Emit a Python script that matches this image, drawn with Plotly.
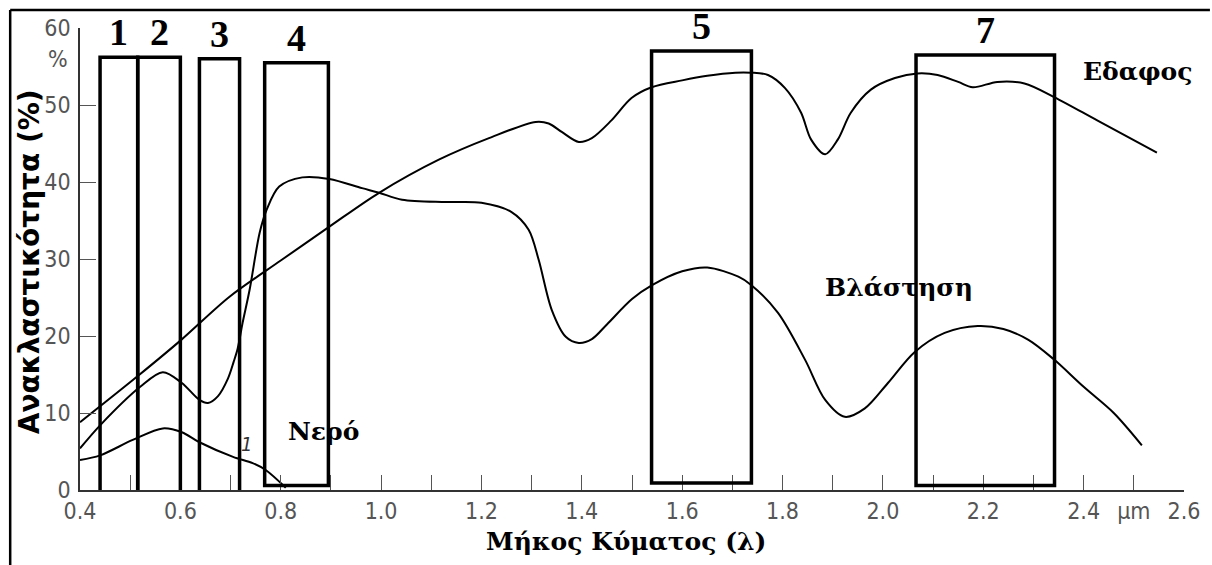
import numpy as np
import plotly.graph_objects as go

# ---------------- data ----------------
soil_x = [0.40, 0.517, 0.60, 0.698, 0.80, 0.897, 0.996, 1.115, 1.215, 1.308, 1.334, 1.36, 1.394,
          1.42, 1.459, 1.499, 1.539, 1.60, 1.65, 1.706, 1.737, 1.771, 1.805, 1.837, 1.857, 1.885,
          1.91, 1.936, 1.976, 2.024, 2.069, 2.109, 2.15, 2.179, 2.228, 2.282, 2.342, 2.427, 2.546]
soil_y = [8.8, 14.9, 19.4, 25.1, 29.8, 34.2, 38.6, 42.9, 45.7, 47.8, 47.6, 46.5, 45.2,
          45.7, 48.0, 50.9, 52.3, 53.2, 53.8, 54.2, 54.2, 53.9, 52.2, 49.0, 45.5, 43.6,
          45.5, 49.0, 52.0, 53.5, 54.1, 53.9, 53.0, 52.3, 53.0, 52.8, 51.0, 48.0, 43.8]

veg_x = [0.40, 0.44, 0.52, 0.565, 0.603, 0.638, 0.655, 0.675, 0.695, 0.706, 0.714, 0.724, 0.738,
         0.758, 0.772, 0.797, 0.843, 0.897, 0.962, 0.996, 1.042, 1.129, 1.20, 1.26, 1.294, 1.314,
         1.34, 1.368, 1.394, 1.42, 1.45, 1.50, 1.54, 1.60, 1.65, 1.712, 1.738, 1.791, 1.845, 1.885,
         1.924, 1.964, 2.01, 2.063, 2.123, 2.189, 2.24, 2.29, 2.34, 2.40, 2.46, 2.516]
veg_y = [5.4, 8.4, 13.4, 15.3, 13.9, 11.7, 11.3, 12.2, 14.5, 16.6, 18.3, 21.7, 26.0,
         33.4, 36.4, 39.4, 40.6, 40.4, 39.2, 38.6, 37.7, 37.4, 37.3, 36.1, 33.8, 29.9,
         23.4, 19.9, 19.1, 19.6, 21.5, 24.8, 26.6, 28.4, 28.9, 27.7, 26.6, 23.0, 16.9, 11.7,
         9.5, 10.6, 13.9, 17.9, 20.4, 21.3, 20.9, 19.5, 17.0, 13.4, 10.0, 5.8]

water_x = [0.40, 0.44, 0.505, 0.565, 0.603, 0.638, 0.705, 0.744, 0.77, 0.81]
water_y = [3.9, 4.5, 6.5, 8.0, 7.5, 6.2, 4.3, 3.5, 2.6, 0.3]

band_names = ["1", "2", "3", "4", "5", "7"]
band_x0 = [0.44, 0.515, 0.638, 0.768, 1.539, 2.066]
band_x1 = [0.515, 0.600, 0.718, 0.895, 1.738, 2.342]
band_top = [56.2, 56.2, 56.0, 55.5, 57.0, 56.5]
band_bottom = [-0.3, -0.5, -0.3, 0.6, 0.9, 0.6]

x_ticks = [round(0.4 + 0.1 * i, 1) for i in range(23)]
x_ticktext = ["0.4", "", "0.6", "", "0.8", "", "1.0", "", "1.2", "", "1.4", "", "1.6", "",
              "1.8", "", "2.0", "", "2.2", "", "2.4", "\u03bcm", "2.6"]
y_ticks = [0, 10, 20, 30, 40, 50, 60]

curve_names = ["\u0395\u03b4\u03b1\u03c6\u03bf\u03c2", "\u0392\u03bb\u03ac\u03c3\u03c4\u03b7\u03c3\u03b7",
               "\u039d\u03b5\u03c1\u03cc"]
y_title = "\u0391\u03bd\u03b1\u03ba\u03bb\u03b1\u03c3\u03c4\u03b9\u03ba\u03cc\u03c4\u03b7\u03c4\u03b1 (%)"
x_title = "\u039c\u03ae\u03ba\u03bf\u03c2 \u039a\u03cd\u03bc\u03b1\u03c4\u03bf\u03c2 (\u03bb)"

# ---------------- figure ----------------
fig = go.Figure()
line_style = dict(color="black", width=2, shape="spline", smoothing=0.9)
for xs, ys, nm in [(soil_x, soil_y, curve_names[0]), (veg_x, veg_y, curve_names[1]),
                   (water_x, water_y, curve_names[2])]:
    fig.add_trace(go.Scatter(x=xs, y=ys, mode="lines", line=line_style, name=nm,
                             hoverinfo="skip", cliponaxis=False))

shapes = []
annotations = []
serif_digits = "Liberation Serif, serif"
serif_greek = "DejaVu Serif, serif"
for nm, x0, x1, t, b in zip(band_names, band_x0, band_x1, band_top, band_bottom):
    shapes.append(dict(type="rect", xref="x", yref="y", x0=x0, x1=x1, y0=b, y1=t,
                       line=dict(color="black", width=3.5), fillcolor="rgba(0,0,0,0)"))
    annotations.append(dict(x=(x0 + x1) / 2, y=t, xref="x", yref="y", text="<b>%s</b>" % nm,
                            showarrow=False, yanchor="middle", yshift=25,
                            font=dict(family=serif_digits, size=38, color="black")))

# curve labels
label_pos = [(2.509, 54.4), (2.032, 26.3), (0.885, 7.6)]
for nm, (lx, ly) in zip(curve_names, label_pos):
    annotations.append(dict(x=lx, y=ly, xref="x", yref="y", text="<b>%s</b>" % nm,
                            showarrow=False, font=dict(family=serif_greek, size=25, color="black")))

# small italic curve number near water line
annotations.append(dict(x=0.732, y=6.0, xref="x", yref="y", text="<i>1</i>", showarrow=False,
                        font=dict(family="DejaVu Sans Condensed, DejaVu Sans", size=20, color="#333")))
tickfont = dict(family="DejaVu Sans Condensed, DejaVu Sans, sans-serif", size=23, color="#555")
# percent sign under 60
annotations.append(dict(x=0, y=56.0, xref="paper", yref="y", text="%", showarrow=False,
                        xanchor="right", xshift=-10, font=tickfont))
# axis titles
annotations.append(dict(x=-0.046, y=0.4935, xref="paper", yref="paper", text="<b>%s</b>" % y_title,
                        showarrow=False, textangle=-90, xanchor="center", yanchor="middle",
                        font=dict(family="DejaVu Sans, Verdana, sans-serif", size=28, color="black")))
annotations.append(dict(x=(627 - 80) / 1107, y=(490 - 541) / 462, xref="paper", yref="paper",
                        text="<b>%s</b>" % x_title, showarrow=False, xanchor="center", yanchor="middle",
                        font=dict(family="DejaVu Serif, serif", size=25, color="black")))

# outer frame (top and left borders)
fx = (10 - 80) / 1107
fy = (490 - 10) / 462
shapes.append(dict(type="line", xref="paper", yref="paper", x0=fx, x1=(1213 - 80) / 1107, y0=fy, y1=fy,
                   line=dict(color="black", width=2.5)))
shapes.append(dict(type="line", xref="paper", yref="paper", x0=fx, x1=fx, y0=fy, y1=(490 - 566) / 462,
                   line=dict(color="black", width=2.5)))

fig.update_layout(
    width=1212, height=565,
    margin=dict(l=80, r=25, t=28, b=75),
    paper_bgcolor="white", plot_bgcolor="white",
    showlegend=False,
    shapes=shapes, annotations=annotations,
    xaxis=dict(range=[0.4, 2.6], showgrid=False, zeroline=False, showline=True, linecolor="#333",
               linewidth=1.5, ticks="inside", ticklen=15, tickwidth=1, tickcolor="#555",
               tickvals=x_ticks, ticktext=x_ticktext, tickfont=tickfont, ticklabelstandoff=0,
               ticklabeloverflow="allow"),
    yaxis=dict(range=[0, 60], showgrid=False, zeroline=False, showline=True, linecolor="#333",
               linewidth=1.5, ticks="inside", ticklen=16, tickwidth=1, tickcolor="#555",
               tickvals=y_ticks, tickfont=tickfont, ticklabelstandoff=3,
               ticklabeloverflow="allow"),
)

fig.write_html("out.html", config={"displayModeBar": False},
               post_script="document.body.style.margin='0';document.body.style.overflow='hidden';")
